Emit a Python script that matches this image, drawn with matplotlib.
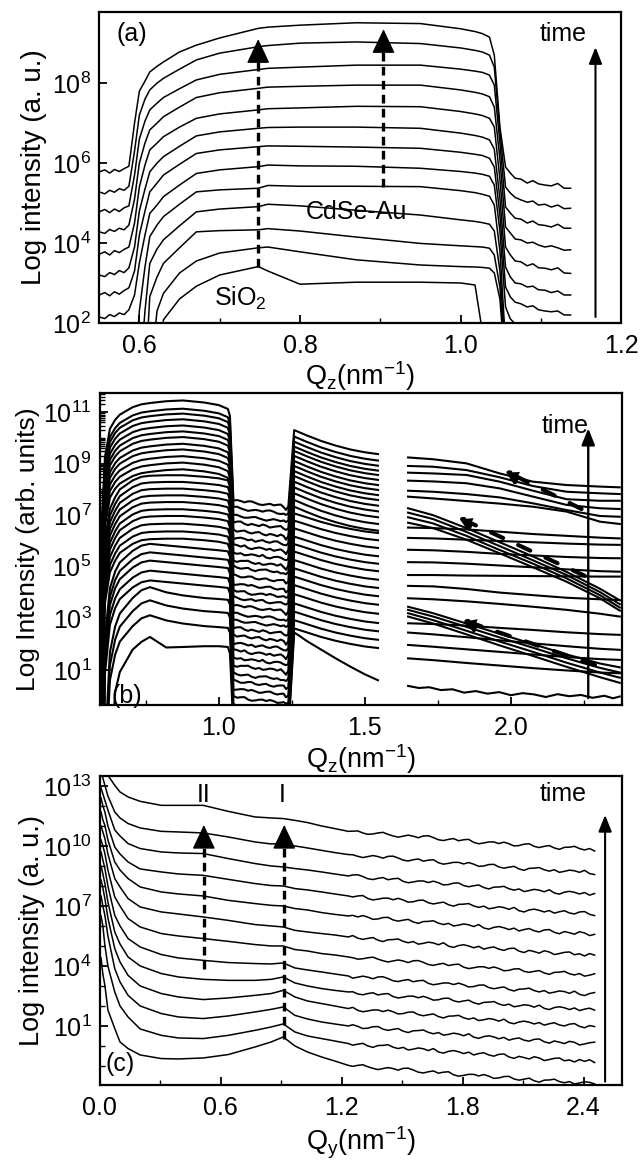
import numpy as np
import matplotlib
matplotlib.use("Agg")
import matplotlib.pyplot as plt
from matplotlib.ticker import LogLocator, NullFormatter, NullLocator

plt.rcParams['font.family'] = ['Liberation Sans', 'DejaVu Sans']
plt.rcParams['mathtext.default'] = 'regular'
plt.rcParams['axes.linewidth'] = 1.6
plt.rcParams['xtick.direction'] = 'in'
plt.rcParams['ytick.direction'] = 'in'

# hand-typed jitter for the noisy parts of the scans
noise = [0.3, 0.6, -0.2, -0.7, -0.3, 0.4, 0.9, 0.1, -0.5, -0.9, -0.2, 0.5, 0.2, -0.4, 0.7,
         1.0, 0.3, -0.6, -0.8, 0.0, 0.6, -0.3, 0.4, 0.8, -0.5, -1.0, -0.4, 0.3, 0.5, -0.1,
         0.8, 0.2, -0.7, -0.3, 0.6, 0.9, -0.2, -0.6, 0.1, 0.7, -0.4, -0.9, 0.2, 0.5, 1.0,
         0.0, -0.5, 0.3, -0.8, -0.2, 0.6, 0.4, -0.3, 0.9, -0.6, -1.0, 0.1, 0.7, 0.3, -0.4,
         0.5, -0.7, 0.2, 0.8, -0.1, -0.5, 0.6, 1.0, -0.3, -0.8, 0.4, 0.0, -0.6, 0.7, 0.3,
         -0.9, -0.2, 0.5, 0.9, -0.4, 0.2, -0.7, 0.6, -0.1, 0.8, -0.5, -0.2, 0.4, -0.9, 0.3]

# ---------------- panel (a): log10 intensity, curves top -> bottom ----------------
a_left_q = [0.550, 0.557, 0.563, 0.569, 0.575, 0.581, 0.587]
a_left = [
    [5.78, 5.83, 5.75, 5.84, 5.79, 5.86, 5.92],
    [5.28, 5.23, 5.32, 5.27, 5.36, 5.32, 5.42],
    [4.78, 4.84, 4.76, 4.85, 4.79, 4.88, 4.93],
    [4.28, 4.24, 4.34, 4.29, 4.37, 4.33, 4.45],
    [3.72, 3.78, 3.70, 3.81, 3.76, 3.84, 3.90],
    [3.20, 3.16, 3.26, 3.21, 3.31, 3.26, 3.38],
    [2.70, 2.76, 2.68, 2.78, 2.72, 2.81, 2.88],
    [2.15, 2.11, 2.21, 2.16, 2.25, 2.21, 2.33],
]
a_mid_q = [0.594, 0.600, 0.607, 0.613, 0.622, 0.630, 0.650, 0.671, 0.700, 0.748, 0.760,
           0.800, 0.870, 0.950, 1.000, 1.018, 1.027, 1.036, 1.042, 1.049, 1.056]
a_mid = [
    [7.0, 7.8, 8.05, 8.28, 8.42, 8.53, 8.78, 8.95, 9.13, 9.37, 9.40, 9.45, 9.51, 9.49, 9.36, 9.29, 9.24, 9.15, 8.7, 6.9, 5.9],
    [6.3, 7.2, 7.6, 7.83, 8.0, 8.12, 8.35, 8.58, 8.75, 8.91, 8.94, 9.0, 9.03, 8.99, 8.88, 8.82, 8.78, 8.7, 8.4, 6.8, 5.4],
    [5.7, 6.6, 7.05, 7.33, 7.5, 7.64, 7.86, 8.08, 8.22, 8.34, 8.37, 8.4, 8.45, 8.45, 8.35, 8.3, 8.27, 8.2, 7.95, 6.5, 4.9],
    [5.1, 6.0, 6.5, 6.83, 7.0, 7.16, 7.4, 7.64, 7.76, 7.87, 7.9, 7.92, 7.95, 7.95, 7.83, 7.77, 7.73, 7.66, 7.4, 6.1, 4.4],
    [4.5, 5.4, 5.95, 6.33, 6.5, 6.66, 6.9, 7.12, 7.23, 7.33, 7.36, 7.38, 7.42, 7.41, 7.29, 7.23, 7.19, 7.12, 6.9, 5.6, 3.9],
    [3.9, 4.8, 5.35, 5.78, 6.0, 6.16, 6.42, 6.68, 6.78, 6.87, 6.89, 6.9, 6.9, 6.87, 6.75, 6.69, 6.65, 6.58, 6.35, 5.1, 3.4],
    [3.3, 4.2, 4.8, 5.28, 5.5, 5.7, 5.97, 6.24, 6.33, 6.41, 6.43, 6.42, 6.4, 6.37, 6.27, 6.22, 6.19, 6.12, 5.9, 4.7, 2.9],
    [2.7, 3.5, 4.2, 4.74, 4.95, 5.16, 5.45, 5.74, 5.83, 5.91, 5.95, 5.93, 5.92, 5.87, 5.79, 5.75, 5.72, 5.67, 5.45, 4.3, 2.4],
    [0.5, 2.3, 3.4, 4.16, 4.45, 4.66, 4.97, 5.28, 5.33, 5.37, 5.44, 5.42, 5.42, 5.41, 5.31, 5.26, 5.22, 5.17, 4.95, 3.8, 1.5],
    [0.0, 0.5, 2.3, 3.49, 3.85, 4.08, 4.43, 4.78, 4.85, 4.91, 4.97, 4.93, 4.82, 4.70, 4.58, 4.54, 4.51, 4.47, 4.3, 3.3, 1.2],
    [0.0, 0.0, 0.5, 2.66, 3.15, 3.49, 3.88, 4.28, 4.31, 4.33, 4.36, 4.30, 4.15, 3.99, 3.93, 3.91, 3.90, 3.87, 3.7, 2.9, 1.0],
    [0.0, 0.0, 0.0, 0.5, 2.3, 2.74, 3.25, 3.55, 3.75, 3.88, 3.90, 3.78, 3.58, 3.45, 3.41, 3.40, 3.39, 3.37, 3.25, 2.6, 0.8],
    [0.0, 0.0, 0.0, 0.0, 0.5, 2.08, 2.6, 2.92, 3.2, 3.41, 3.3, 2.97, 3.02, 3.02, 3.0, 2.95, 1.8, 0.0, 0.0, 0.0, 0.0],
]
a_right_q = [1.062, 1.068, 1.075, 1.083, 1.090, 1.097, 1.105, 1.113, 1.121, 1.129, 1.137]
a_right = [
    [5.75, 5.62, 5.60, 5.50, 5.56, 5.48, 5.45, 5.43, 5.49, 5.37, 5.37],
    [5.25, 5.14, 5.08, 5.02, 5.05, 4.95, 4.97, 4.90, 4.95, 4.86, 4.87],
    [4.75, 4.62, 4.60, 4.50, 4.55, 4.46, 4.44, 4.40, 4.47, 4.37, 4.37],
    [4.25, 4.10, 4.08, 4.00, 4.02, 3.95, 3.90, 3.93, 3.88, 3.82, 3.83],
    [3.70, 3.55, 3.53, 3.43, 3.48, 3.38, 3.37, 3.33, 3.38, 3.25, 3.24],
    [3.15, 3.00, 2.98, 2.90, 2.92, 2.83, 2.82, 2.76, 2.80, 2.70, 2.70],
    [2.65, 2.52, 2.48, 2.40, 2.43, 2.33, 2.30, 2.28, 2.30, 2.20, 2.20],
    [2.10, 1.98, 1.95, 1.86, 1.90, 1.80, 1.78, 1.75, 1.78, 1.70, 1.68],
]

# ---------------- panel (b): curves bottom -> top ----------------
b_left_q = [0.592, 0.600, 0.610, 0.627, 0.645, 0.661, 0.705, 0.735, 0.764, 0.82, 0.877,
            0.95, 1.00, 1.031, 1.038]
b_left_shapes = [
    [-14, -14, -14, -5.0, -1.74, -0.97, -0.10, 0.20, 0.39, -0.02, 0, 0.03, 0.03, 0.00, -0.25],
    [-14, -14, -6.0, -2.2, -1.20, -0.70, -0.10, 0.20, 0.32, 0.12, 0, -0.10, -0.14, -0.17, -0.35],
    [-14, -10, -3.5, -1.6, -0.95, -0.60, -0.15, 0.05, 0.12, 0.06, 0, -0.08, -0.13, -0.17, -0.38],
    [-14, -6.0, -2.5, -1.3, -0.85, -0.55, -0.20, -0.06, -0.02, 0.00, 0, -0.06, -0.12, -0.20, -0.45],
    [-14, -4.5, -2.2, -1.1, -0.75, -0.55, -0.26, -0.15, -0.10, -0.03, 0, -0.08, -0.18, -0.33, -0.60],
]
b_level = [1.89, 2.80, 3.38, 3.89, 4.35, 4.73, 5.12, 5.44, 5.77, 6.09, 6.37, 6.67, 6.97, 7.23,
           7.51, 7.77, 8.03, 8.29, 8.55, 8.78, 9.04, 9.29, 9.55, 9.77, 10.03, 10.25, 10.48,
           10.72, 10.94, 11.13, 11.45]
b_shape_id = [0, 1, 1, 1, 2, 2, 2, 2, 2, 3, 3, 3, 3, 3, 3, 3, 3, 3, 3,
              4, 4, 4, 4, 4, 4, 4, 4, 4, 4, 4, 4]
b_mid_q = [1.050, 1.062, 1.075, 1.088, 1.100, 1.112, 1.125, 1.138, 1.150, 1.162, 1.175,
           1.188, 1.200, 1.212, 1.222, 1.230, 1.238]
b_mid_shape = [0.12, 0.10, 0.08, 0.06, 0.04, 0.02, 0.0, -0.01, -0.02, -0.04, -0.05,
               -0.06, -0.08, -0.09, -0.12, -0.20, -0.10]
b_mid_level = [-1.4, -1.1, -0.8, -0.5, -0.16, 0.16, 0.46, 0.74, 1.07, 1.36, 1.65, 1.93,
               2.23, 2.52, 2.81, 3.07, 3.39, 3.69, 3.95, 4.23, 4.55, 4.88, 5.14, 5.43,
               5.72, 6.01, 6.30, 6.62, 6.88, 7.18, 7.46]
b_right_q = [1.258, 1.275, 1.30, 1.35, 1.40, 1.45, 1.50, 1.545]
b_right_shapes = [
    [0, -0.12, -0.32, -0.66, -1.00, -1.32, -1.62, -1.85],
    [0, -0.06, -0.15, -0.33, -0.48, -0.60, -0.70, -0.76],
    [0, -0.08, -0.20, -0.42, -0.60, -0.75, -0.86, -0.93],
]
b_right_start = [2.45, 2.61, 2.93, 3.26, 3.58, 3.94, 4.29, 4.62, 4.94, 5.26, 5.59, 5.88,
                 6.17, 6.49, 6.79, 7.07, 7.33, 7.59, 7.85, 8.08, 8.30, 8.52, 8.71, 8.91,
                 9.10, 9.30, 9.49, 9.66, 9.85, 10.05, 10.30]
b_right_id = [0] + [1] * 15 + [2] * 15

b_far_q = [1.648, 1.734, 1.848, 1.962, 2.076, 2.191, 2.305, 2.373]
b_far = [
    [1.45, 1.38, 1.27, 1.17, 1.07, 0.98, 0.90, 0.87],
    [1.97, 1.90, 1.80, 1.70, 1.60, 1.50, 1.42, 1.39],
    [2.45, 2.38, 2.27, 2.15, 2.03, 1.92, 1.82, 1.78],
    [2.81, 2.78, 2.72, 2.63, 2.55, 2.46, 2.39, 2.36],
    [3.07, 2.80, 2.38, 1.95, 1.54, 1.12, 0.72, 0.50],
    [3.20, 2.93, 2.52, 2.10, 1.70, 1.28, 0.90, 0.70],
    [3.33, 3.07, 2.67, 2.26, 1.86, 1.45, 1.08, 0.90],
    [3.45, 3.20, 2.80, 2.40, 2.00, 1.60, 1.25, 1.10],
    [3.78, 3.74, 3.66, 3.56, 3.45, 3.33, 3.18, 3.07],
    [4.26, 4.24, 4.14, 4.00, 3.90, 3.80, 3.74, 3.71],
    [4.68, 4.68, 4.66, 4.65, 4.64, 4.63, 4.62, 4.62],
    [5.18, 5.17, 5.12, 5.05, 4.98, 4.90, 4.83, 4.81],
    [5.66, 5.64, 5.58, 5.50, 5.44, 5.38, 5.34, 5.33],
    [6.12, 6.10, 6.05, 6.00, 5.95, 5.90, 5.86, 5.85],
    [6.52, 6.50, 6.45, 6.36, 6.27, 6.20, 6.13, 6.10],
    [6.71, 6.50, 6.05, 5.52, 4.98, 4.42, 3.78, 3.30],
    [6.92, 6.68, 6.20, 5.65, 5.12, 4.55, 3.90, 3.42],
    [7.10, 6.85, 6.35, 5.80, 5.25, 4.68, 4.02, 3.55],
    [7.27, 7.00, 6.50, 5.95, 5.40, 4.80, 4.15, 3.70],
    [7.72, 7.65, 7.55, 7.45, 7.33, 7.14, 6.75, 6.66],
    [7.95, 7.91, 7.82, 7.69, 7.46, 7.20, 6.97, 6.94],
    [8.34, 8.31, 8.24, 8.04, 7.72, 7.40, 7.27, 7.24],
    [8.65, 8.62, 8.56, 8.30, 7.95, 7.62, 7.56, 7.56],
    [8.91, 8.88, 8.75, 8.47, 8.13, 7.91, 7.85, 7.82],
    [9.24, 9.17, 9.01, 8.62, 8.30, 8.17, 8.11, 8.08],
]
b_floor_q = [1.648, 1.685, 1.72, 1.76, 1.80, 1.84, 1.88, 1.92, 1.96, 2.0, 2.04, 2.08, 2.12,
             2.16, 2.20, 2.24, 2.28, 2.32, 2.35, 2.373]
b_floor = [0.38, 0.30, 0.33, 0.22, 0.25, 0.12, 0.18, 0.08, 0.14, 0.02, 0.10, 0.05, -0.05,
           0.06, -0.02, 0.03, -0.08, 0.00, -0.10, -0.03]

# ---------------- panel (c): curves top -> bottom ----------------
c_head_q = [0.006, 0.015, 0.025, 0.04, 0.074, 0.10, 0.14, 0.20, 0.305, 0.39, 0.513, 0.637,
            0.77, 0.85, 0.91, 0.968, 1.03, 1.10, 1.165, 1.233]
c_head = [
    [15.0, 14.5, 14.0, 13.53, 13.03, 12.7, 12.45, 12.23, 12.03, 12.03, 12.03, 11.73, 11.45, 11.4, 11.37, 11.28, 11.17, 11.0, 10.87, 10.73],
    [13.8, 13.4, 13.03, 12.5, 11.7, 11.4, 11.12, 10.9, 10.73, 10.7, 10.65, 10.45, 10.2, 10.1, 10.12, 10.0, 9.9, 9.78, 9.67, 9.57],
    [12.9, 12.6, 12.28, 11.8, 10.8, 10.5, 10.12, 9.87, 9.7, 9.65, 9.62, 9.37, 9.12, 9.0, 8.95, 8.87, 8.8, 8.7, 8.6, 8.5],
    [12.4, 12.0, 11.7, 11.0, 9.95, 9.6, 9.2, 8.85, 8.7, 8.6, 8.53, 8.33, 8.12, 8.02, 8.0, 7.87, 7.8, 7.7, 7.6, 7.5],
    [11.7, 11.3, 11.03, 10.3, 9.2, 8.8, 8.37, 7.95, 7.7, 7.6, 7.5, 7.28, 7.12, 7.03, 7.0, 6.87, 6.8, 6.67, 6.58, 6.5],
    [11.0, 10.7, 10.37, 9.6, 8.37, 7.95, 7.37, 6.95, 6.7, 6.6, 6.45, 6.28, 6.07, 6.0, 5.95, 5.78, 5.7, 5.62, 5.55, 5.45],
    [10.3, 10.0, 9.62, 8.8, 7.45, 7.0, 6.37, 5.95, 5.62, 5.5, 5.37, 5.23, 5.07, 5.0, 5.0, 4.82, 4.75, 4.62, 4.55, 4.45],
    [9.7, 9.3, 8.87, 8.0, 6.53, 6.0, 5.37, 4.95, 4.57, 4.4, 4.28, 4.17, 4.12, 4.1, 4.15, 3.9, 3.8, 3.7, 3.6, 3.5],
    [9.0, 8.6, 8.12, 7.2, 5.7, 5.1, 4.45, 4.0, 3.62, 3.45, 3.33, 3.28, 3.28, 3.33, 3.45, 3.15, 3.0, 2.87, 2.78, 2.7],
    [8.3, 7.9, 7.37, 6.4, 4.87, 4.2, 3.53, 3.0, 2.62, 2.45, 2.32, 2.4, 2.53, 2.62, 2.78, 2.45, 2.25, 2.12, 2.0, 1.87],
    [7.5, 7.0, 6.53, 5.5, 3.87, 3.2, 2.53, 2.0, 1.62, 1.45, 1.37, 1.5, 1.7, 1.83, 1.95, 1.53, 1.35, 1.2, 1.1, 1.0],
    [6.5, 6.0, 5.03, 4.0, 2.7, 2.0, 1.45, 0.85, 0.53, 0.4, 0.37, 0.53, 0.78, 0.95, 1.1, 0.7, 0.5, 0.37, 0.25, 0.12],
    [4.4, 3.6, 3.03, 1.8, 0.87, 0.2, -0.13, -0.45, -0.63, -0.65, -0.6, -0.43, -0.05, 0.2, 0.45, 0.0, -0.3, -0.55, -0.75, -0.97],
]
c_tail_q = [1.255, 1.28, 1.305, 1.33, 1.355, 1.38, 1.405, 1.43, 1.455, 1.48, 1.505, 1.53,
            1.555, 1.58, 1.605, 1.63, 1.655, 1.68, 1.705, 1.73, 1.755, 1.78, 1.805, 1.83,
            1.855, 1.88, 1.905, 1.93, 1.955, 1.98, 2.005, 2.03, 2.055, 2.08, 2.105, 2.13,
            2.155, 2.18, 2.205, 2.23, 2.255, 2.28, 2.305, 2.33, 2.355, 2.38, 2.405, 2.43, 2.455]
c_tail_drop = [-0.02, -0.04, -0.06, -0.08, -0.10, -0.12, -0.14, -0.16, -0.18, -0.20,
               -0.22, -0.24, -0.26, -0.28, -0.30, -0.32, -0.34, -0.36, -0.38, -0.40,
               -0.42, -0.44, -0.46, -0.48, -0.50, -0.52, -0.54, -0.56, -0.58, -0.60,
               -0.62, -0.64, -0.66, -0.68, -0.70, -0.71, -0.73, -0.75, -0.76, -0.78,
               -0.79, -0.81, -0.82, -0.84, -0.85, -0.86, -0.88, -0.89, -0.90]

fig = plt.figure(figsize=(6.4, 11.63), dpi=100)
ax_a = fig.add_axes([0.155, 0.7223, 0.8156, 0.2674])
ax_b = fig.add_axes([0.156, 0.3938, 0.8156, 0.2683])
ax_c = fig.add_axes([0.156, 0.0671, 0.8156, 0.2657])

TICK = 18
LAB = 19.5


def style(ax):
    ax.set_yscale('log')
    ax.tick_params(which='major', length=6, width=1.3, labelsize=TICK, pad=6)
    ax.tick_params(which='minor', length=3.5, width=1.0)
    ax.tick_params(axis='x', pad=8)


def arrow(ax, x0, y0, x1, y1, lw, dash=None, ms=20, hl=0.55, hw=0.28):
    ls = '-' if dash is None else (0, dash)
    ax.annotate('', xy=(x1, 10 ** y1), xytext=(x0, 10 ** y0),
                arrowprops=dict(arrowstyle='-|>,head_length=%g,head_width=%g' % (hl, hw),
                                lw=lw, linestyle=ls, color='k', mutation_scale=ms,
                                shrinkA=0, shrinkB=0))


def dashed_up(ax, x, y0, y1, head):
    # dashed shaft, solid filled head (head = head height in decades)
    ax.plot([x, x], [10 ** y0, 10 ** (y1 - head * 0.8)], color='k', lw=2.4,
            dashes=(2.6, 1.6), solid_capstyle='butt')
    arrow(ax, x, y1 - head, x, y1, 1.0, ms=22, hl=0.7, hw=0.33)


# ---- (a)
for k in range(len(a_mid)):
    q = list(a_mid_q)
    v = list(a_mid[k])
    if k < len(a_left):
        q = a_left_q + q
        v = a_left[k] + v
    if k < len(a_right):
        q = q + a_right_q
        v = v + a_right[k]
    ax_a.plot(q, 10 ** np.array(v), color='k', lw=1.1)

style(ax_a)
ax_a.set_xlim(0.55, 1.2)
ax_a.set_ylim(1e2, 10 ** 9.78)
ax_a.set_xticks([0.6, 0.8, 1.0, 1.2])
ax_a.set_xticklabels(['0.6', '0.8', '1.0', '1.2'])
ax_a.set_xticks([0.7, 0.9, 1.1], minor=True)
ax_a.set_yticks([1e2, 1e4, 1e6, 1e8])
ax_a.set_yticklabels(['$10^{2}$', '$10^{4}$', '$10^{6}$', '$10^{8}$'])
ax_a.yaxis.set_minor_locator(NullLocator())
ax_a.set_ylabel('Log intensity (a. u.)', fontsize=LAB + 0.5)
ax_a.set_xlabel('Q$_z$(nm$^{-1}$)', fontsize=LAB)
ax_a.yaxis.set_label_coords(-0.10, 0.5)
ax_a.xaxis.set_label_coords(0.5, -0.115)

dashed_up(ax_a, 0.748, 3.41, 9.10, 0.38)
dashed_up(ax_a, 0.904, 5.41, 9.35, 0.38)
arrow(ax_a, 1.168, 2.15, 1.168, 8.9, 1.5, ms=20, hl=0.5, hw=0.2)
ax_a.text(0.59, 10 ** 9.22, '(a)', fontsize=TICK, ha='center', va='center')
ax_a.text(1.128, 10 ** 9.22, 'time', fontsize=TICK, ha='center', va='center')
ax_a.text(0.87, 10 ** 4.78, 'CdSe-Au', fontsize=TICK, ha='center', va='center')
ax_a.text(0.726, 10 ** 2.62, 'SiO$_2$', fontsize=TICK, ha='center', va='center')

# ---- (b)
for j in range(len(b_level)):
    left = b_level[j] + np.array(b_left_shapes[b_shape_id[j]])
    st = (5 * j) % 70
    jit = np.array(noise[st:st + len(b_mid_q)])
    mid = b_mid_level[j] + np.array(b_mid_shape) + 0.055 * jit
    right = b_right_start[j] + np.array(b_right_shapes[b_right_id[j]])
    q = b_left_q + b_mid_q + b_right_q
    v = np.concatenate([left, mid, right])
    ax_b.plot(q, 10 ** v, color='k', lw=1.5)
for row in b_far:
    ax_b.plot(b_far_q, 10 ** np.array(row), color='k', lw=1.5)
ax_b.plot(b_floor_q, 10 ** np.array(b_floor), color='k', lw=1.5)

style(ax_b)
ax_b.set_xlim(0.5925, 2.38)
ax_b.set_ylim(10 ** -0.36, 10 ** 11.74)
ax_b.set_xticks([1.0, 1.5, 2.0])
ax_b.set_xticklabels(['1.0', '1.5', '2.0'])
ax_b.set_xticks([0.75, 1.25, 1.75, 2.25], minor=True)
ax_b.set_yticks([1e1, 1e3, 1e5, 1e7, 1e9, 1e11])
ax_b.set_yticklabels(['$10^{1}$', '$10^{3}$', '$10^{5}$', '$10^{7}$', '$10^{9}$', '$10^{11}$'])
ax_b.yaxis.set_minor_locator(LogLocator(base=10, subs=np.arange(1, 10), numticks=40))
ax_b.yaxis.set_minor_formatter(NullFormatter())
ax_b.set_ylabel('Log Intensity (arb. units)', fontsize=LAB - 0.5)
ax_b.set_xlabel('Q$_z$(nm$^{-1}$)', fontsize=LAB)
ax_b.yaxis.set_label_coords(-0.115, 0.5)
ax_b.xaxis.set_label_coords(0.5, -0.12)

for x0, y0, x1, y1 in [(2.242, 7.24, 1.979, 8.73), (2.253, 4.65, 1.82, 6.92),
                       (2.288, 1.19, 1.834, 2.94)]:
    arrow(ax_b, x0, y0, x1, y1, 3.0, dash=(3.2, 4.0), ms=9, hl=0.8, hw=0.45)
arrow(ax_b, 2.265, -0.09, 2.265, 10.37, 1.7, ms=20, hl=0.5, hw=0.2)
ax_b.text(0.686, 10 ** 0.0, '(b)', fontsize=TICK, ha='center', va='center')
ax_b.text(2.185, 10 ** 10.45, 'time', fontsize=TICK, ha='center', va='center')

# ---- (c)
for r in range(len(c_head)):
    head = np.array(c_head[r])
    st = (7 * r) % 40
    jit = np.array(noise[st:st + len(c_tail_q)])
    tail = head[-1] + np.array(c_tail_drop) + 0.10 * jit
    q = c_head_q + c_tail_q
    v = np.concatenate([head, tail])
    ax_c.plot(q, 10 ** v, color='k', lw=1.1)

style(ax_c)
ax_c.set_xlim(0.0, 2.59)
ax_c.set_ylim(10 ** -1.95, 10 ** 13.5)
ax_c.set_xticks([0.0, 0.6, 1.2, 1.8, 2.4])
ax_c.set_xticklabels(['0.0', '0.6', '1.2', '1.8', '2.4'])
ax_c.set_xticks([0.3, 0.9, 1.5, 2.1], minor=True)
ax_c.set_yticks([1e1, 1e4, 1e7, 1e10, 1e13])
ax_c.set_yticklabels(['$10^{1}$', '$10^{4}$', '$10^{7}$', '$10^{10}$', '$10^{13}$'])
ax_c.set_yticks([10.0 ** e for e in (-1, 0, 2, 3, 5, 6, 8, 9, 11, 12)], minor=True)
ax_c.yaxis.set_minor_formatter(NullFormatter())
ax_c.set_ylabel('Log intensity (a. u.)', fontsize=LAB)
ax_c.set_xlabel('Q$_y$(nm$^{-1}$)', fontsize=LAB)
ax_c.yaxis.set_label_coords(-0.105, 0.5)
ax_c.xaxis.set_label_coords(0.5, -0.128)

dashed_up(ax_c, 0.516, 3.87, 11.05, 0.75)
dashed_up(ax_c, 0.915, 0.37, 11.05, 0.75)
arrow(ax_c, 2.507, -1.78, 2.507, 11.55, 1.5, ms=20, hl=0.5, hw=0.2)
ax_c.text(0.513, 10 ** 12.55, 'II', fontsize=TICK, ha='center', va='center')
ax_c.text(0.907, 10 ** 12.55, 'I', fontsize=TICK, ha='center', va='center')
ax_c.text(2.30, 10 ** 12.6, 'time', fontsize=TICK, ha='center', va='center')
ax_c.text(0.10, 10 ** -0.9, '(c)', fontsize=TICK, ha='center', va='center')

fig.savefig('out.png', dpi=100)
